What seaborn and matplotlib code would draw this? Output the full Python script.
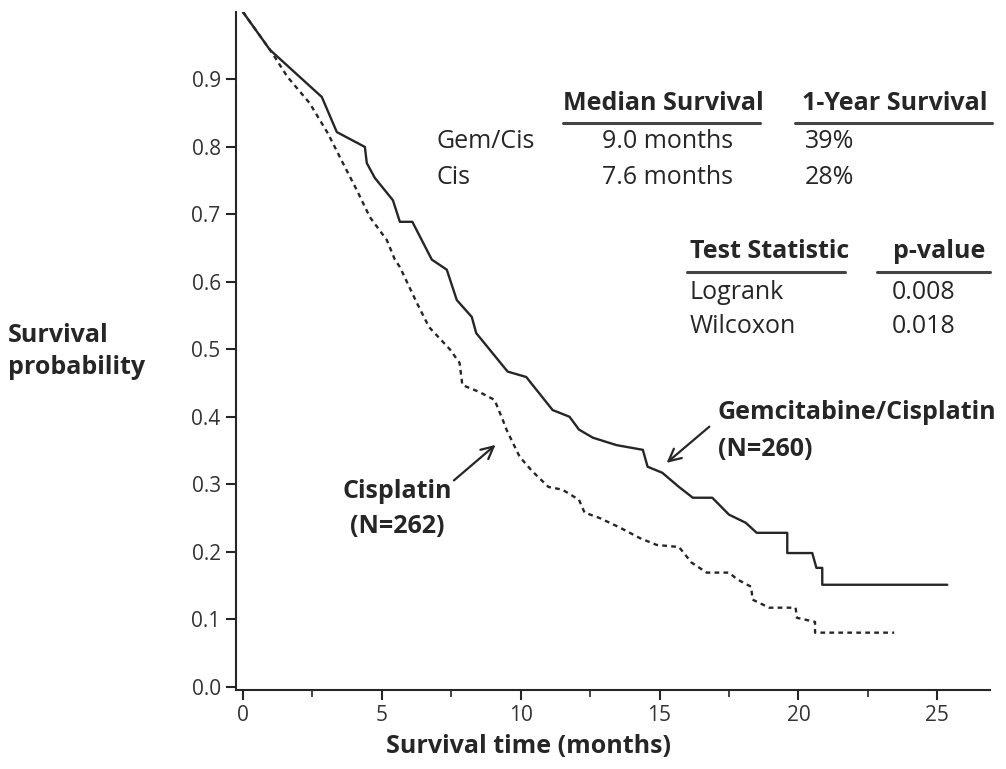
import numpy as np
import pandas as pd
import seaborn as sns
import matplotlib.pyplot as plt
from matplotlib.ticker import MultipleLocator

# Kaplan-Meier curves: vertices (months, survival)
gem_time = [0.0, 0.97, 2.84, 3.38, 4.39, 4.46, 4.75, 5.4, 5.65, 6.1, 6.8, 7.34, 7.7,
            8.24, 8.4, 9.53, 10.2, 11.15, 11.76, 12.1, 12.6, 13.45, 14.4, 14.57, 15.1,
            15.7, 16.2, 16.9, 17.5, 18.1, 18.5, 19.6, 19.6, 20.5, 20.65, 20.86, 20.86,
            25.36]
gem_surv = [1.0, 0.944, 0.874, 0.822, 0.80, 0.776, 0.754, 0.721, 0.689, 0.689, 0.633,
            0.618, 0.573, 0.548, 0.524, 0.467, 0.459, 0.41, 0.40, 0.381, 0.369, 0.358,
            0.351, 0.326, 0.317, 0.296, 0.28, 0.28, 0.255, 0.243, 0.228, 0.228, 0.198,
            0.198, 0.176, 0.176, 0.151, 0.151]

cis_time = [0.0, 1.04, 1.6, 2.4, 3.06, 3.6, 4.1, 4.57, 5.18, 5.47, 5.65, 6.26, 6.7,
            7.45, 7.8, 7.9, 8.5, 9.06, 9.35, 9.5, 9.96, 10.4, 11.0, 11.5, 12.1, 12.3,
            12.84, 13.56, 14.3, 14.9, 15.7, 16.15, 16.7, 17.5, 17.8, 18.3, 18.35, 18.95,
            19.9, 19.95, 20.6, 20.6, 23.45]
cis_surv = [1.0, 0.94, 0.904, 0.865, 0.82, 0.776, 0.736, 0.696, 0.662, 0.633, 0.622,
            0.569, 0.533, 0.50, 0.48, 0.447, 0.437, 0.425, 0.396, 0.38, 0.341, 0.32,
            0.296, 0.292, 0.277, 0.258, 0.25, 0.236, 0.22, 0.21, 0.207, 0.184, 0.169,
            0.169, 0.159, 0.148, 0.129, 0.117, 0.117, 0.102, 0.096, 0.08, 0.08]

x_ticks = [0, 5, 10, 15, 20, 25]
y_ticks = [0.0, 0.1, 0.2, 0.3, 0.4, 0.5, 0.6, 0.7, 0.8, 0.9]

arms = ['Gem/Cis', 'Cis']
median_surv = ['9.0 months', '7.6 months']
year_surv = ['39%', '28%']
tests = ['Logrank', 'Wilcoxon']
p_values = ['0.008', '0.018']

km = pd.concat([
    pd.DataFrame({'time': gem_time, 'surv': gem_surv, 'arm': 'Gem/Cis'}),
    pd.DataFrame({'time': cis_time, 'surv': cis_surv, 'arm': 'Cis'}),
])

sns.set_style('ticks')
plt.rcParams['font.family'] = ['Open Sans', 'DejaVu Sans']
ink = '#262626'

fig = plt.figure(figsize=(10.06, 7.69), dpi=100)
ax = fig.add_axes([236 / 1006, 79 / 769, 754 / 1006, 678 / 769])

sns.lineplot(data=km, x='time', y='surv', hue='arm', style='arm',
             palette={'Gem/Cis': ink, 'Cis': ink},
             dashes={'Gem/Cis': '', 'Cis': (2.0, 1.8)},
             estimator=None, sort=False, linewidth=1.7, legend=False, ax=ax)

ax.set_xlim(-0.25, 26.9)
ax.set_ylim(-0.005, 1.0)
ax.set_xticks(x_ticks)
ax.xaxis.set_minor_locator(MultipleLocator(2.5))
ax.set_yticks(y_ticks)
ax.set_yticklabels(['%.1f' % v for v in y_ticks])
sns.despine(ax=ax)
for s in ['left', 'bottom']:
    ax.spines[s].set_linewidth(1.5)
    ax.spines[s].set_color(ink)
ax.tick_params(axis='both', which='major', length=7, width=1.5, color=ink,
               labelsize=15, labelcolor='#333333', pad=4)
ax.tick_params(axis='x', which='minor', length=5, width=1.2, color=ink)

ax.set_xlabel('Survival time (months)', fontsize=18, fontweight='bold', color=ink)
ax.xaxis.set_label_coords((528 - 236) / 754, -0.065)
ax.set_ylabel('')


def at(x, y):
    # position in axes fraction from a point on the 1006x769 canvas
    return ((x - 236) / 754, (690 - y) / 678)


def put(x, y, s, ha='left', bold=False, size=18):
    ax.text(*at(x, y), s, transform=ax.transAxes, ha=ha, va='center',
            fontsize=size, fontweight='bold' if bold else 'normal', color=ink)


def rule(x0, x1, y):
    (a0, b0), (a1, _) = at(x0, y), at(x1, y)
    ax.plot([a0, a1], [b0, b0], transform=ax.transAxes, color='#444444',
            lw=2.2, clip_on=False)


# y label, two lines
fig.text(8 / 1006, 1 - 335 / 769, 'Survival', ha='left', va='center',
         fontsize=18, fontweight='bold', color=ink)
fig.text(8 / 1006, 1 - 367 / 769, 'probability', ha='left', va='center',
         fontsize=18, fontweight='bold', color=ink)

# survival table
put(663, 103, 'Median Survival', ha='center', bold=True)
put(802, 103, '1-Year Survival', bold=True)
rule(563, 760, 123)
rule(795, 992, 123)
for i, (arm, med, yr) in enumerate(zip(arms, median_surv, year_surv)):
    y = 142 + 36 * i
    put(437, y, arm)
    put(668, y, med, ha='center')
    put(805, y, yr)

# test table
put(690, 252, 'Test Statistic', bold=True)
put(893, 252, 'p-value', bold=True)
rule(687, 845, 272)
rule(877, 990, 272)
for i, (t, p) in enumerate(zip(tests, p_values)):
    y = 292 + 35 * i
    put(690, y, t)
    put(892, y, p)

# curve labels with arrows
ax.annotate('', xy=(15.18, 0.329), xytext=(16.87, 0.388),
            arrowprops=dict(arrowstyle='->', lw=1.6, color=ink, mutation_scale=22))
ax.text(17.09, 0.407, 'Gemcitabine/Cisplatin', ha='left', va='center',
        fontsize=18, fontweight='bold', color=ink)
ax.text(17.09, 0.351, '(N=260)', ha='left', va='center',
        fontsize=18, fontweight='bold', color=ink)

ax.annotate('', xy=(9.17, 0.361), xytext=(7.52, 0.303),
            arrowprops=dict(arrowstyle='->', lw=1.6, color=ink, mutation_scale=22))
ax.text(5.54, 0.289, 'Cisplatin', ha='center', va='center',
        fontsize=18, fontweight='bold', color=ink)
ax.text(5.54, 0.237, '(N=262)', ha='center', va='center',
        fontsize=18, fontweight='bold', color=ink)

fig.savefig('out.png', dpi=100)
